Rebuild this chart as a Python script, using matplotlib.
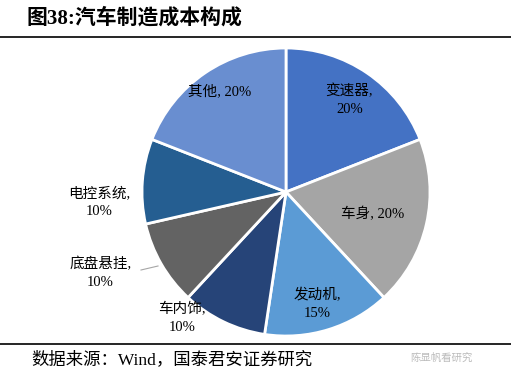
import matplotlib
matplotlib.use("Agg")
import matplotlib.pyplot as plt
from matplotlib.lines import Line2D

categories = ["变速器", "车身", "发动机", "车内饰", "底盘悬挂", "电控系统", "其他"]
values = [20, 20, 15, 10, 10, 10, 20]
colors = ["#4472C4", "#A5A5A5", "#5B9BD5", "#264478", "#636363", "#255E91", "#698ED0"]
title = "图38:汽车制造成本构成"
source = "数据来源：Wind，国泰君安证券研究"

# label layout (axes data coords) and line-break style
label_pos = {
    "变速器": (0.44, 0.64, True),
    "车身": (0.60, -0.15, False),
    "发动机": (0.22, -0.78, True),
    "车内饰": (-0.72, -0.875, True),
    "底盘悬挂": (-1.29, -0.56, True),
    "电控系统": (-1.30, -0.07, True),
    "其他": (-0.46, 0.70, False),
}

fam = ["Liberation Serif", "Noto Sans CJK SC"]

fig = plt.figure(figsize=(5.11, 3.80), dpi=100)
cx, cy, r = 286, 192, 144
W, H = 511, 380
ax = fig.add_axes([(cx - r) / W, (H - cy - r) / H, 2 * r / W, 2 * r / H])
ax.pie(values, colors=colors, startangle=90, counterclock=False,
       wedgeprops=dict(edgecolor="white", linewidth=2))
ax.set_xlim(-1, 1)
ax.set_ylim(-1, 1)
ax.set_aspect("equal")
ax.axis("off")

for cat, val in zip(categories, values):
    x, y, br = label_pos[cat]
    txt = f"{cat},\n{val}%" if br else f"{cat}, {val}%"
    ax.text(x, y, txt, ha="center", va="center", fontsize=10.5, family=fam,
            linespacing=1.45, color="#000000", clip_on=False)

# leader line for 底盘悬挂
ax.plot([(141 - cx) / r, (158 - cx) / r], [(cy - 270) / r, (cy - 266) / r],
        color="#A6A6A6", lw=0.8, clip_on=False)

# title and rules
fig.text(27 / W, 1 - 18 / H, title, ha="left", va="center", fontsize=15,
         fontweight="bold", family=["Liberation Serif", "Noto Sans CJK SC"])
fig.add_artist(Line2D([0, 1], [1 - 37 / H, 1 - 37 / H], color="black", lw=1.2))
fig.add_artist(Line2D([0, 1], [1 - 344 / H, 1 - 344 / H], color="black", lw=1.2))
fig.text(31 / W, 1 - 360 / H, source, ha="left", va="center", fontsize=12.5,
         family=fam)
fig.text(410 / W, 1 - 358 / H, "陈显帆看研究", ha="left", va="center", fontsize=7.5,
         family=fam, color="#BBBBBB")

fig.savefig("out.png", dpi=100)
